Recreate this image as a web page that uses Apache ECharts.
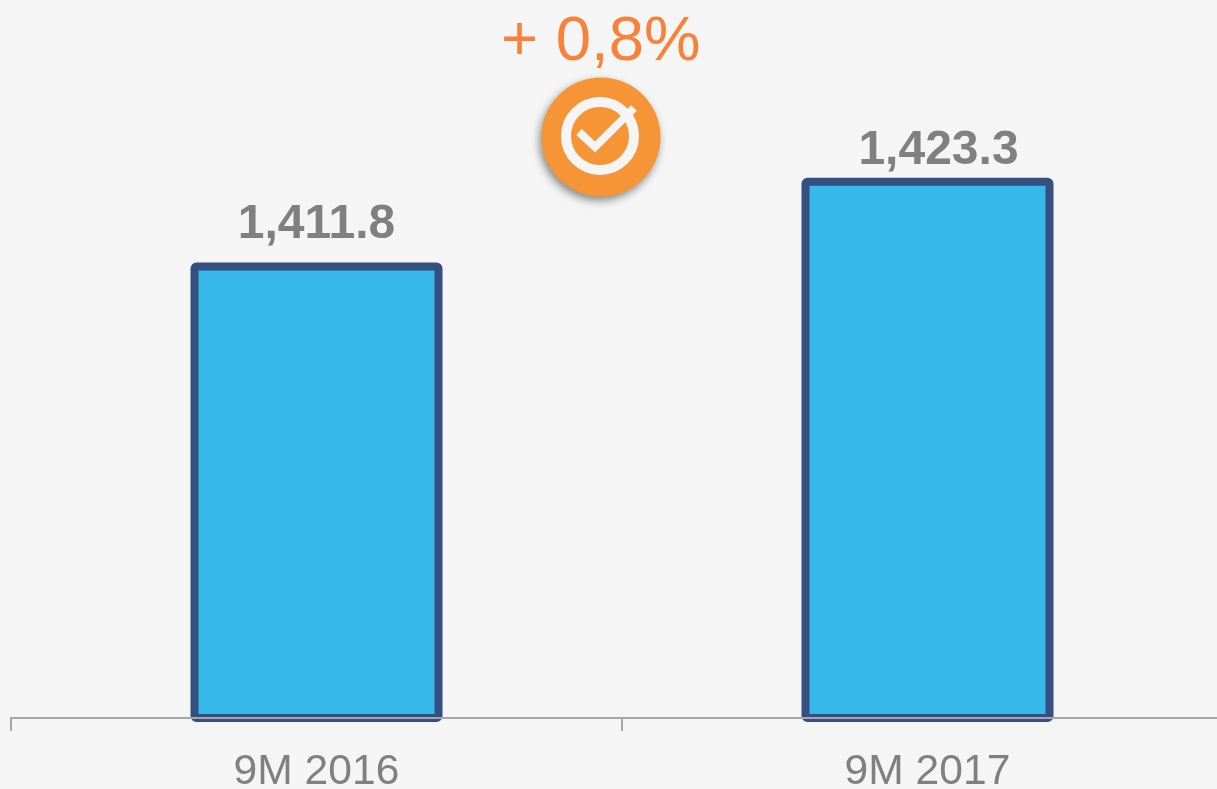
<!DOCTYPE html>
<html>
<head>
<meta charset="utf-8">
<style>html,body{margin:0;padding:0;background:#f5f5f5;overflow:hidden}#c{width:1217px;height:789px}</style>
<script src="https://cdn.jsdelivr.net/npm/echarts@6/dist/echarts.min.js"></script>
</head>
<body>
<div id="c"></div>
<script>
const categories = ['9M 2016', '9M 2017'];
const values = [1411.8, 1423.3];
const changeLabel = '+ 0,8%';

const font = '"Liberation Sans", Arial, sans-serif';
const chart = echarts.init(document.getElementById('c'), null, {renderer: 'canvas'});
chart.setOption({
  animation: false,
  backgroundColor: '#f5f5f5',
  grid: {left: 11, top: 0, width: 1222, height: 718, containLabel: false, outerBoundsMode: 'none'},
  xAxis: {
    type: 'category',
    data: categories,
    boundaryGap: true,
    z: 5,
    axisLine: {show: true, lineStyle: {color: '#a6a6a6', width: 2}},
    axisTick: {show: true, length: 13, lineStyle: {color: '#a6a6a6', width: 2}},
    axisLabel: {color: '#808080', fontSize: 42.6, fontFamily: font, margin: 33, lineHeight: 43, interval: 0, hideOverlap: false}
  },
  yAxis: {type: 'value', min: 1350, max: 1447.4, show: false, splitLine: {show: false}},
  series: [{
    type: 'bar',
    data: values.map((v, i) => i === 1 ? {value: v, label: {offset: [11, 11]}} : v),
    barWidth: 252,
    z: 1,
    itemStyle: {color: '#36b8eb', borderColor: '#354f80', borderWidth: 8, borderRadius: 2},
    label: {
      show: true,
      position: 'top',
      distance: 14,
      color: '#808080',
      fontSize: 48,
      fontWeight: 'bold',
      fontFamily: font,
      formatter: p => p.value.toLocaleString('en-US', {minimumFractionDigits: 1})
    }
  }],
  graphic: [
    {type: 'text', left: 501, top: 10, style: {text: changeLabel, fill: '#f9823a', font: '63.5px ' + font}},
    {type: 'circle', shape: {cx: 601, cy: 137, r: 59.5},
      style: {fill: '#f69536', shadowBlur: 9, shadowColor: 'rgba(0,0,0,0.45)', shadowOffsetX: -2, shadowOffsetY: 4}},
    {type: 'circle', shape: {cx: 600, cy: 136, r: 34},
      style: {fill: 'none', stroke: '#f5f5f5', lineWidth: 10}},
    {type: 'polyline', shape: {points: [[579, 132], [595, 147], [634, 108]]},
      style: {fill: 'none', stroke: '#f5f5f5', lineWidth: 8}}
  ]
});
</script>
</body>
</html>
